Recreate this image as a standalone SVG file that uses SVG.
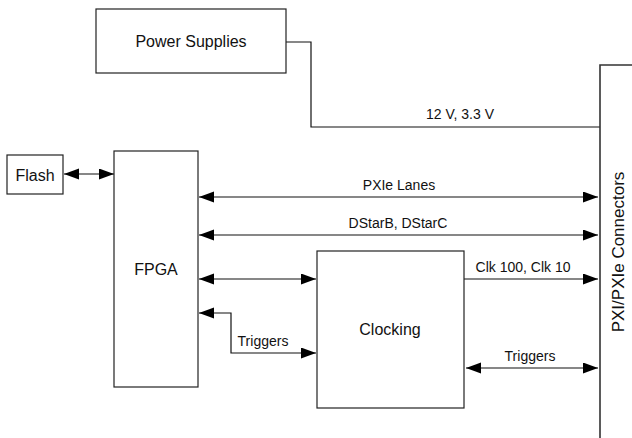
<svg xmlns="http://www.w3.org/2000/svg" width="632" height="438" viewBox="0 0 632 438">
<style>
.box{fill:#fff;stroke:#222;stroke-width:1.2}
.ln{fill:none;stroke:#111;stroke-width:1.2}
.big{font-family:"Liberation Sans",Arial,sans-serif;font-size:16px;fill:#111}
.sm{font-family:"Liberation Sans",Arial,sans-serif;font-size:14px;fill:#111}
</style>
<defs>
<marker id="ah" markerUnits="userSpaceOnUse" markerWidth="16" markerHeight="12" refX="15" refY="5.5" orient="auto-start-reverse">
<path d="M0,0 L15,5.5 L0,11 z" fill="#000"/>
</marker>
</defs>
<g id="connectors">
<path class="ln" d="M286,42 H311 V127 H600"/>
<path class="ln" d="M600,438 V65 H632" style="stroke:#333;stroke-width:1.6"/>
<path class="ln" d="M64,174 H114" marker-start="url(#ah)" marker-end="url(#ah)"/>
<path class="ln" d="M199,197 H598" marker-start="url(#ah)" marker-end="url(#ah)"/>
<path class="ln" d="M199,235 H598" marker-start="url(#ah)" marker-end="url(#ah)"/>
<path class="ln" d="M199,279 H316" marker-start="url(#ah)" marker-end="url(#ah)"/>
<path class="ln" d="M199,313 H231 V353 H316" marker-start="url(#ah)" marker-end="url(#ah)"/>
<path class="ln" d="M464,279 H598" marker-end="url(#ah)"/>
<path class="ln" d="M466,368 H598" marker-start="url(#ah)" marker-end="url(#ah)"/>
<text class="sm" x="460" y="119" text-anchor="middle">12 V, 3.3 V</text>
<text class="sm" x="399" y="190" text-anchor="middle">PXIe Lanes</text>
<text class="sm" x="398" y="228" text-anchor="middle">DStarB, DStarC</text>
<text class="sm" x="523" y="272" text-anchor="middle">Clk 100, Clk 10</text>
<text class="sm" x="530" y="361" text-anchor="middle">Triggers</text>
<text class="sm" x="263" y="346" text-anchor="middle">Triggers</text>
</g>
<g id="power">
<rect class="box" x="96" y="9" width="190" height="64"/>
<text class="big" x="191" y="47" text-anchor="middle">Power Supplies</text>
</g>
<g id="flash">
<rect class="box" x="7" y="155" width="56" height="39"/>
<text class="big" x="35" y="181" text-anchor="middle">Flash</text>
</g>
<g id="fpga">
<rect class="box" x="114" y="151" width="84" height="236"/>
<text class="big" x="156" y="275" text-anchor="middle">FPGA</text>
</g>
<g id="clocking">
<rect class="box" x="317" y="251" width="147" height="157"/>
<text class="big" x="390" y="335" text-anchor="middle">Clocking</text>
</g>
<g id="pxi">
<text class="big" style="font-size:17px" transform="translate(624,252) rotate(-90)" text-anchor="middle">PXI/PXIe Connectors</text>
</g>
</svg>
